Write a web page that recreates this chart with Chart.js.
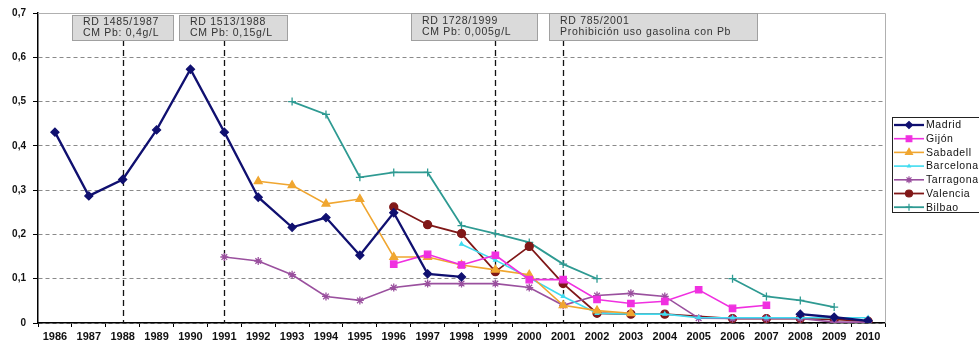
<!DOCTYPE html>
<html>
<head>
<meta charset="utf-8">
<script src="https://cdn.jsdelivr.net/npm/chart.js@4.4.0/dist/chart.umd.min.js"></script>
<style>
    body { margin: 0; background: #fff; }
    #wrap { width: 979px; height: 347px; }
</style>
</head>
<body>
<div id="wrap"><canvas id="leadChart" width="979" height="347"></canvas></div>
<script>
// Data
var years = ["1986","1987","1988","1989","1990","1991","1992","1993","1994","1995","1996","1997","1998",
             "1999","2000","2001","2002","2003","2004","2005","2006","2007","2008","2009","2010"];
var yTicks = [0, 0.1, 0.2, 0.3, 0.4, 0.5, 0.6, 0.7];

var madrid    = [0.431,0.287,0.324,0.436,0.573,0.431,0.284,0.216,0.238,0.153,0.249,0.111,0.104,null,null,null,null,null,null,null,null,null,0.02,0.013,0.005];
var gijon     = [null,null,null,null,null,null,null,null,null,null,0.133,0.155,0.131,0.153,0.098,0.098,0.053,0.044,0.049,0.075,0.033,0.04,null,null,null];
var sabadell  = [null,null,null,null,null,null,0.32,0.311,0.269,0.28,0.149,0.149,0.131,0.12,0.109,0.04,0.028,0.022,null,null,null,null,null,null,null];
var barcelona = [null,null,null,null,null,null,null,null,null,null,null,null,0.178,0.142,0.102,0.06,0.022,0.02,0.02,0.012,0.012,0.012,0.012,0.012,0.012];
var tarragona = [null,null,null,null,null,0.149,0.14,0.109,0.06,0.051,0.08,0.089,0.089,0.089,0.08,0.04,0.062,0.067,0.06,0.011,0.01,0.01,0.01,0.002,0.002];
var valencia  = [null,null,null,null,null,null,null,null,null,null,0.262,0.222,0.202,0.116,0.173,0.089,0.022,0.02,0.02,null,0.01,0.01,0.01,0.008,0.004];
var bilbao    = [null,null,null,null,null,null,null,0.5,0.471,0.329,0.34,0.34,0.22,0.202,0.182,0.133,0.1,null,null,null,0.1,0.06,0.051,0.036,null];

// Laws (vertical markers)
var lawYears = ["1988", "1991", "1999", "2001"];
var lawLine1 = ["RD 1485/1987", "RD 1513/1988", "RD 1728/1999", "RD 785/2001"];
var lawLine2 = ["CM Pb: 0,4g/L", "CM Pb: 0,15g/L", "CM Pb: 0,005g/L", "Prohibición uso gasolina con Pb"];

// box placement relative to marker line
var boxOffset = [-51, -45, -84, -14];
var boxWidth  = [101, 108, 126, 208];

function series(label, data, color, style, radius, width) {
    return {
        label: label,
        data: data,
        borderColor: color,
        backgroundColor: color,
        pointStyle: style,
        pointRadius: radius,
        pointHoverRadius: radius,
        pointBorderWidth: 1.3,
        borderWidth: width,
        tension: 0,
        spanGaps: false
    };
}

var datasets = [
    series("Madrid", madrid, "#101070", "rectRot", 4, 2.3),
    series("Gijón", gijon, "#f030e0", "rect", 4.5, 1.6),
    series("Sabadell", sabadell, "#f0a630", "triangle", 4.5, 1.6),
    series("Barcelona", barcelona, "#40dcf0", "triangle", 2, 1.6),
    series("Tarragona", tarragona, "#9a509e", "star", 4, 1.6),
    series("Valencia", valencia, "#801818", "circle", 4, 1.8),
    series("Bilbao", bilbao, "#2e9a92", "cross", 4, 1.8)
];
datasets[5].spanGaps = true;

// Law lines + boxes, frame, legend
var lawPlugin = {
    id: "laws",
    beforeDatasetsDraw: function (chart) {
        var ctx = chart.ctx;
        var area = chart.chartArea;
        var x = chart.scales.x;
        ctx.save();
        // frame top / right
        ctx.strokeStyle = "#b0b0b0";
        ctx.lineWidth = 1;
        ctx.beginPath();
        ctx.moveTo(area.left, area.top + 0.5);
        ctx.lineTo(area.right + 0.5, area.top + 0.5);
        ctx.lineTo(area.right + 0.5, area.bottom);
        ctx.stroke();
        // dashed law lines
        ctx.strokeStyle = "#111";
        ctx.lineWidth = 1.3;
        ctx.setLineDash([6, 4]);
        lawYears.forEach(function (yr) {
            var px = Math.round(x.getPixelForValue(years.indexOf(yr))) + 0.5;
            ctx.beginPath();
            ctx.moveTo(px, 40);
            ctx.lineTo(px, area.bottom);
            ctx.stroke();
        });
        ctx.restore();
    },
    afterDatasetsDraw: function (chart) {
        var ctx = chart.ctx;
        var x = chart.scales.x;
        ctx.save();
        ctx.font = "10.5px 'Liberation Sans', Arial, sans-serif";
        ctx.letterSpacing = "0.7px";
        ctx.textBaseline = "middle";
        lawYears.forEach(function (yr, i) {
            var px = Math.round(x.getPixelForValue(years.indexOf(yr)));
            var left = px + boxOffset[i];
            var top = i < 2 ? 15 : 13;
            var h = 40 - top;
            ctx.fillStyle = "#dadada";
            ctx.fillRect(left, top, boxWidth[i], h);
            ctx.strokeStyle = "#a0a0a0";
            ctx.lineWidth = 1;
            ctx.strokeRect(left + 0.5, top + 0.5, boxWidth[i], h);
            ctx.fillStyle = "#333";
            ctx.fillText(lawLine1[i], left + 11, top + h / 2 - 5);
            ctx.fillText(lawLine2[i], left + 11, top + h / 2 + 6);
        });
        ctx.restore();
    },
    afterDraw: function (chart) {
        // legend
        var ctx = chart.ctx;
        ctx.save();
        ctx.fillStyle = "#fff";
        ctx.fillRect(892, 117, 100, 96);
        ctx.strokeStyle = "#222";
        ctx.lineWidth = 1;
        ctx.strokeRect(892.5, 117.5, 100, 95);
        ctx.font = "10.5px 'Liberation Sans', Arial, sans-serif";
        ctx.letterSpacing = "0.6px";
        ctx.textBaseline = "middle";
        chart.data.datasets.forEach(function (ds, i) {
            var y = 125 + i * 13.7;
            ctx.strokeStyle = ds.borderColor;
            ctx.fillStyle = ds.backgroundColor;
            ctx.lineWidth = ds.borderWidth;
            ctx.beginPath();
            ctx.moveTo(894, y);
            ctx.lineTo(924, y);
            ctx.stroke();
            ctx.lineWidth = 1.2;
            Chart.helpers.drawPoint(ctx, { pointStyle: ds.pointStyle, radius: ds.pointRadius - 0.5, rotation: 0, borderWidth: 1.2 }, 909, y);
            ctx.fillStyle = "#111";
            ctx.fillText(ds.label, 926, y + 0.5);
        });
        ctx.restore();
    }
};

var ctx = document.getElementById("leadChart").getContext("2d");
var leadChart = new Chart(ctx, {
    type: "line",
    data: { labels: years, datasets: datasets },
    options: {
        responsive: false,
        animation: false,
        layout: { padding: { top: 8, right: 94, left: 0, bottom: 0 } },
        plugins: {
            legend: { display: false },
            tooltip: { enabled: false }
        },
        scales: {
            x: {
                type: "category",
                offset: true,
                afterFit: function (scale) { scale.height = 24; },
                grid: {
                    offset: true,
                    drawOnChartArea: false,
                    drawTicks: true,
                    tickLength: 4,
                    tickColor: "#000",
                    tickWidth: 1
                },
                border: { display: true, color: "#000", width: 1.5 },
                ticks: {
                    autoSkip: false,
                    maxRotation: 0,
                    padding: 3,
                    color: "#111",
                    font: { family: "'Liberation Sans', Arial, sans-serif", size: 11, weight: "bold" }
                }
            },
            y: {
                min: 0,
                max: 0.7,
                afterFit: function (scale) { scale.width = 38; },
                afterBuildTicks: function (scale) {
                    scale.ticks = yTicks.map(function (v) { return { value: v }; });
                },
                grid: {
                    color: function (c) { return c.tick && c.tick.value >= 0.7 ? "rgba(0,0,0,0)" : "#8a8a8a"; },
                    lineWidth: 1,
                    drawTicks: true,
                    tickLength: 5,
                    tickColor: "#000",
                    tickBorderDash: []
                },
                border: { display: true, color: "#000", width: 1.5, dash: [4, 3] },
                ticks: {
                    padding: 7,
                    color: "#111",
                    font: { family: "'Liberation Sans', Arial, sans-serif", size: 10, weight: "bold" },
                    callback: function (v) { return v === 0 ? "0" : v.toFixed(1).replace(".", ","); }
                }
            }
        }
    },
    plugins: [lawPlugin]
});
</script>
</body>
</html>
